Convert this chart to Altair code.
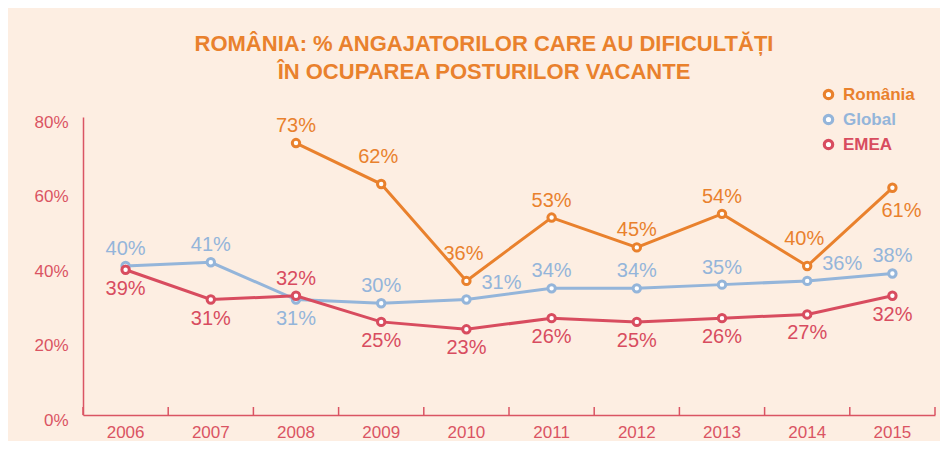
import altair as alt
import pandas as pd

# ---- data ----
years = ["2006", "2007", "2008", "2009", "2010", "2011", "2012", "2013", "2014", "2015"]
series_names = ["România", "Global", "EMEA"]
romania = [None, None, 73, 62, 36, 53, 45, 54, 40, 61]
global_ = [40, 41, 31, 30, 31, 34, 34, 35, 36, 38]
emea = [39, 31, 32, 25, 23, 26, 25, 26, 27, 32]

# label placement relative to its point
romania_pos = [None, None, "above", "high", "high", "above", "above", "above", "high", "belowright"]
global_pos = ["above", "above", "below", "above", "right", "above", "above", "above", "right", "above"]
emea_pos = ["below", "below", "above", "below", "below", "below", "below", "below", "below", "below"]

title_lines = ["ROMÂNIA: % ANGAJATORILOR CARE AU DIFICULTĂȚI", "ÎN OCUPAREA POSTURILOR VACANTE"]
y_ticks = [0, 20, 40, 60, 80]

# ---- styles ----
ORANGE = "#E9812D"
BLUE = "#94B5DA"
RED = "#D84C5F"
AXIS_RED = "#DA5463"
BG = "#FDEEE2"
FONT = "Liberation Sans"
colors = [ORANGE, BLUE, RED]
W, H = 852, 298

rows = []
for name, vals, pos in zip(series_names, [romania, global_, emea], [romania_pos, global_pos, emea_pos]):
    for yr, v, p in zip(years, vals, pos):
        if v is None:
            continue
        rows.append({"year": yr, "series": name, "value": v, "pos": p, "label": f"{v}%"})
df = pd.DataFrame(rows)
year_df = pd.DataFrame({"year": years})

xscale = alt.Scale(type="band", domain=years, paddingInner=0, paddingOuter=0)
yscale = alt.Scale(domain=[0, 80], nice=False)

x_bottom = alt.Axis(orient="bottom", title=None, labelAngle=0, ticks=False, tickSize=0,
                    domainColor=AXIS_RED, domainWidth=1.5, labelColor=AXIS_RED,
                    labelFont=FONT, labelFontSize=17, labelPadding=9, grid=False)
y_axis = alt.Axis(title=None, values=y_ticks, labelExpr="datum.value + '%'", grid=False,
                  ticks=False, tickSize=0, domainColor=AXIS_RED, domainWidth=1.5,
                  labelColor=AXIS_RED, labelFont=FONT, labelFontSize=17, labelPadding=15,
                  labelOffset=5)


def X(**kw):
    return alt.X("year:O", scale=xscale, axis=x_bottom, **kw)


def Y():
    return alt.Y("value:Q", scale=yscale, axis=y_axis)


# small ticks at band boundaries, pointing up from the x axis
tick_marks = alt.Chart(year_df).mark_rule(color=AXIS_RED, strokeWidth=1.5).encode(
    x=X(bandPosition=0),
    y=alt.value(H - 8),
    y2=alt.value(H),
)
tick_end = alt.Chart(year_df).mark_rule(color=AXIS_RED, strokeWidth=1.5).encode(
    x=X(bandPosition=1),
    y=alt.value(H - 8),
    y2=alt.value(H),
).transform_filter(alt.datum.year == years[-1])

offsets = {"above": (0, -17), "below": (0, 19), "high": (-3, -27), "right": (35, -17),
           "belowright": (9, 23)}

series_layers = []
for i, (name, col) in enumerate(zip(series_names, colors)):
    sub = alt.Chart(df).transform_filter(alt.datum.series == name)
    line = sub.mark_line(strokeWidth=3, color=col).encode(x=X(), y=Y())
    pts = sub.mark_point(filled=False, fill="white", size=55, strokeWidth=3, opacity=1).encode(
        x=X(),
        y=Y(),
        color=alt.Color("series:N", scale=alt.Scale(domain=[name], range=[col]),
                        legend=alt.Legend(
                            orient="none", legendX=737, legendY=-31 + 25 * i, title=None,
                            symbolType="circle", symbolSize=70, symbolStrokeWidth=3.2,
                            symbolFillColor="white", symbolStrokeColor=col,
                            labelFont=FONT, labelFontSize=17, labelFontWeight="bold",
                            labelColor=col, labelOffset=6, padding=0)),
    )
    series_layers += [line, pts]
    for p, (dx, dy) in offsets.items():
        t = sub.mark_text(font=FONT, fontSize=20, dx=dx, dy=dy, baseline="middle",
                          align="center", color=col).encode(
            x=X(), y=Y(), text="label:N",
        ).transform_filter(alt.datum.pos == p)
        series_layers.append(t)

chart = alt.layer(tick_marks, tick_end, *series_layers).resolve_scale(
    color="independent"
).properties(
    width=W,
    height=H,
    padding={"left": 75, "top": 109, "right": 5, "bottom": 26},
    autosize=alt.AutoSizeParams(type="none"),
    background=BG,
    title=alt.TitleParams(text=title_lines, font=FONT, fontSize=22, fontWeight="bold",
                          color=ORANGE, anchor="middle", dx=-25, offset=-20, frame="group",
                          baseline="bottom", lineHeight=28),
).configure_view(stroke=None)

chart.save("out.html", embed_options={"renderer": "svg", "actions": False})
